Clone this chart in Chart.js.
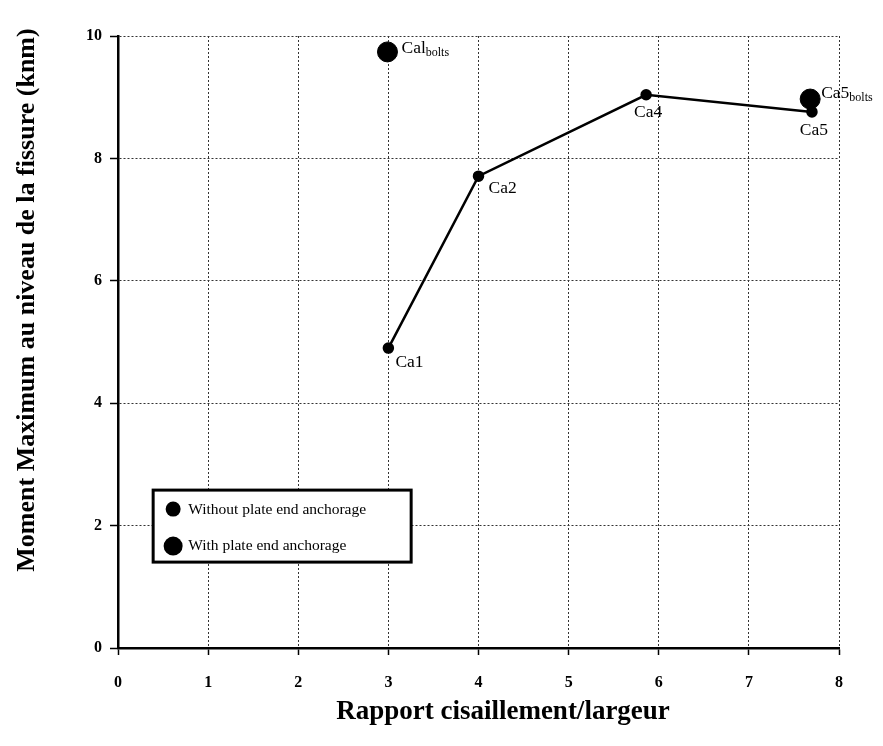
<!DOCTYPE html>
<html>
<head>
<meta charset="utf-8">
<script src="https://cdn.jsdelivr.net/npm/chart.js@4/dist/chart.umd.min.js"></script>
<style>
  html, body { margin: 0; padding: 0; background: #fff; }
  #wrap { width: 883px; height: 746px; position: relative; }
</style>
</head>
<body>
<div id="wrap"><canvas id="c" width="883" height="746"></canvas></div>
<script>
// Beams without plate end anchorage
const specimenNames = ['Ca1', 'Ca2', 'Ca4', 'Ca5'];
const shearSpanRatio = [3.0, 4.0, 5.86, 7.7];
const maxMoment = [4.9, 7.71, 9.04, 8.76];

// Beams with bolted plate end anchorage
const boltedNames = ['Cal', 'Ca5'];
const boltedRatio = [2.99, 7.68];
const boltedMoment = [9.74, 8.97];

const xTicks = [0, 1, 2, 3, 4, 5, 6, 7, 8];
const yTicks = [0, 2, 4, 6, 8, 10];

const legendItems = ['Without plate end anchorage', 'With plate end anchorage'];
const xTitle = 'Rapport cisaillement/largeur';
const yTitle = 'Moment Maximum au niveau de la fissure (knm)';

const serif = '"Liberation Serif", "DejaVu Serif", serif';

// label offsets in pixels relative to each point: [dx, dy, align]
const nameOffsets = [[7, 14, 'left'], [10, 12, 'left'], [2, 18, 'center'], [2, 19, 'center']];
const boltOffsets = [[14, -4, 'left'], [11, -6, 'left']];

const annotate = {
  id: 'annotate',
  afterDatasetsDraw(chart) {
    const ctx = chart.ctx;
    const xs = chart.scales.x, ys = chart.scales.y;
    ctx.save();
    ctx.fillStyle = '#000';
    ctx.textBaseline = 'middle';
    ctx.font = '17.5px ' + serif;
    specimenNames.forEach((n, i) => {
      const px = xs.getPixelForValue(shearSpanRatio[i]);
      const py = ys.getPixelForValue(maxMoment[i]);
      const o = nameOffsets[i];
      ctx.textAlign = o[2];
      ctx.fillText(n, px + o[0], py + o[1]);
    });
    boltedNames.forEach((n, i) => {
      const px = xs.getPixelForValue(boltedRatio[i]);
      const py = ys.getPixelForValue(boltedMoment[i]);
      const o = boltOffsets[i];
      ctx.textAlign = 'left';
      ctx.font = '17.5px ' + serif;
      ctx.fillText(n, px + o[0], py + o[1]);
      const w = ctx.measureText(n).width;
      ctx.font = '12px ' + serif;
      ctx.fillText('bolts', px + o[0] + w, py + o[1] + 5);
    });

    // legend box inside the plot
    const lx = xs.getPixelForValue(0.39), ly = ys.getPixelForValue(2.58);
    const lw = 258, lh = 72;
    ctx.lineWidth = 3;
    ctx.strokeStyle = '#000';
    ctx.fillStyle = '#fff';
    ctx.fillRect(lx, ly, lw, lh);
    ctx.strokeRect(lx, ly, lw, lh);
    ctx.fillStyle = '#000';
    ctx.beginPath(); ctx.arc(lx + 20, ly + 19, 7.5, 0, Math.PI * 2); ctx.fill();
    ctx.beginPath(); ctx.arc(lx + 20, ly + 56, 9.5, 0, Math.PI * 2); ctx.fill();
    ctx.font = '15.5px ' + serif;
    ctx.textAlign = 'left';
    ctx.fillText(legendItems[0], lx + 35, ly + 20);
    ctx.fillText(legendItems[1], lx + 35, ly + 56);

    // axis titles
    ctx.font = 'bold 27px ' + serif;
    ctx.textAlign = 'center';
    ctx.fillText(xTitle, 503, 712);
    ctx.save();
    ctx.translate(27, 300);
    ctx.rotate(-Math.PI / 2);
    ctx.font = 'bold 26px ' + serif;
    ctx.fillText(yTitle, 0, 0);
    ctx.restore();
    ctx.restore();
  }
};

new Chart(document.getElementById('c'), {
  type: 'scatter',
  data: {
    datasets: [
      {
        label: legendItems[0],
        data: shearSpanRatio.map((x, i) => ({ x, y: maxMoment[i] })),
        showLine: true,
        borderColor: '#000',
        borderWidth: 2.5,
        backgroundColor: '#000',
        pointRadius: 4.5,
        pointHoverRadius: 4.5,
        tension: 0
      },
      {
        label: legendItems[1],
        data: boltedRatio.map((x, i) => ({ x, y: boltedMoment[i] })),
        showLine: false,
        borderColor: '#000',
        backgroundColor: '#000',
        pointRadius: 10,
        pointHoverRadius: 10
      }
    ]
  },
  options: {
    responsive: false,
    animation: false,
    events: [],
    layout: { padding: { left: 0, top: 36, right: 44, bottom: 0 } },
    plugins: { legend: { display: false }, tooltip: { enabled: false } },
    scales: {
      x: {
        type: 'linear',
        min: 0, max: 8,
        afterFit(s) { s.height = 98; },
        afterBuildTicks(s) { s.ticks = xTicks.map(v => ({ value: v })); },
        ticks: {
          color: '#000',
          padding: 18,
          font: { family: serif, size: 16, weight: 'bold' },
          callback: v => String(v)
        },
        grid: { color: '#333', lineWidth: 1, tickLength: 7, tickColor: '#000', tickWidth: 1.5 },
        border: { display: true, color: '#000', width: 2.5, dash: [2, 2] }
      },
      y: {
        type: 'linear',
        min: 0, max: 10,
        afterFit(s) { s.width = 118; },
        afterBuildTicks(s) { s.ticks = yTicks.map(v => ({ value: v })); },
        ticks: {
          color: '#000',
          padding: 8,
          font: { family: serif, size: 16, weight: 'bold' },
          callback: v => String(v)
        },
        grid: { color: '#333', lineWidth: 1, tickLength: 8, tickColor: '#000', tickWidth: 1.5 },
        border: { display: true, color: '#000', width: 2.5, dash: [2, 2] }
      }
    }
  },
  plugins: [annotate]
});
</script>
</body>
</html>
